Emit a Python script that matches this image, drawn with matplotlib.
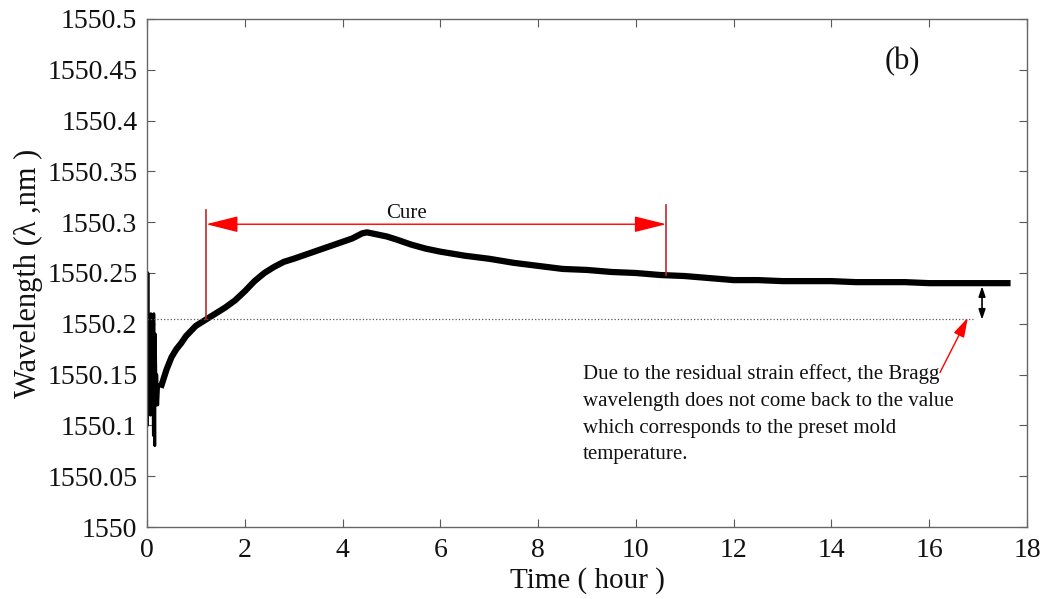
import matplotlib
matplotlib.use('Agg')
from matplotlib import pyplot as plt
import numpy as np

plt.rcParams['font.family'] = ['Liberation Serif', 'DejaVu Serif']

# noisy start-up of the FBG signal (hour, nm)
t_start = [0.00, 0.01, 0.02, 0.03, 0.05, 0.07, 0.08, 0.10, 0.11, 0.13, 0.14, 0.16, 0.17, 0.19, 0.20, 0.22, 0.24]
wl_start = [1550.25, 1550.10, 1550.25, 1550.12, 1550.20, 1550.11, 1550.21, 1550.13, 1550.20, 1550.09,
            1550.21, 1550.08, 1550.19, 1550.12, 1550.15, 1550.12, 1550.14]

# rest of the curve
t_main = [0.30, 0.40, 0.50, 0.60, 0.70, 0.80, 0.90, 1.00, 1.20, 1.40, 1.60, 1.80, 2.00, 2.20, 2.40,
          2.60, 2.80, 3.00, 3.30, 3.60, 3.90, 4.20, 4.40, 4.50, 4.70, 4.90, 5.10, 5.40, 5.70, 6.00,
          6.50, 7.00, 7.50, 8.00, 8.50, 9.00, 9.50, 10.00, 10.50, 11.00, 11.50, 12.00, 12.50, 13.00,
          13.50, 14.00, 14.50, 15.00, 15.50, 16.00, 16.50, 17.00, 17.60]
wl_main = [1550.140, 1550.155, 1550.167, 1550.175, 1550.181, 1550.188, 1550.193, 1550.198, 1550.204,
           1550.210, 1550.216, 1550.223, 1550.232, 1550.242, 1550.250, 1550.256, 1550.261, 1550.264,
           1550.269, 1550.274, 1550.279, 1550.284, 1550.289, 1550.290, 1550.288, 1550.286, 1550.283,
           1550.278, 1550.274, 1550.271, 1550.267, 1550.264, 1550.260, 1550.257, 1550.254, 1550.253,
           1550.251, 1550.250, 1550.248, 1550.247, 1550.245, 1550.243, 1550.243, 1550.242, 1550.242,
           1550.242, 1550.241, 1550.241, 1550.241, 1550.240, 1550.240, 1550.240, 1550.240]

preset_wl = 1550.205      # wavelength at preset mold temperature
cure_start, cure_end = 1.21, 10.62
x_ticks = [0, 2, 4, 6, 8, 10, 12, 14, 16, 18]
y_ticks = [1550, 1550.05, 1550.1, 1550.15, 1550.2, 1550.25, 1550.3, 1550.35, 1550.4, 1550.45, 1550.5]
y_ticklabels = ['1550', '1550.05', '1550.1', '1550.15', '1550.2', '1550.25', '1550.3', '1550.35',
                '1550.4', '1550.45', '1550.5']

fig = plt.figure(figsize=(10.47, 5.99), dpi=100)
ax = fig.add_axes([0.1404, 0.1202, 0.8405, 0.8481])

# noisy start drawn thinner, then the main trace
ax.plot(t_start + t_main[:1], wl_start + wl_main[:1], color='k', lw=2.0)
ax.plot(t_main, wl_main, color='k', lw=4.5, solid_joinstyle='round')

# dotted reference line
ax.plot([0, 16.9], [preset_wl, preset_wl], ':', color='0.35', lw=0.9)

# cure interval
ax.plot([cure_start, cure_start], [preset_wl, 1550.312], color='#c0282d', lw=1.2)
ax.plot([cure_end, cure_end], [1550.248, 1550.317], color='#c0282d', lw=1.2)
ax.annotate('', xy=(cure_start, 1550.298), xytext=(cure_end, 1550.298),
            arrowprops=dict(arrowstyle='<|-|>,head_length=2.0,head_width=0.5', color='#ff0000', lw=1.0,
                            shrinkA=0, shrinkB=0))
ax.text(5.30, 1550.309, 'Cure', fontsize=15, ha='center', va='center', color='#111111')

# residual strain arrows
ax.annotate('', xy=(17.08, 1550.204), xytext=(17.08, 1550.237),
            arrowprops=dict(arrowstyle='<|-|>,head_length=0.6,head_width=0.2', color='k', lw=1.2,
                            shrinkA=0, shrinkB=0))
ax.annotate('', xy=(16.79, 1550.206), xytext=(16.22, 1550.152),
            arrowprops=dict(arrowstyle='-|>,head_length=1.2,head_width=0.35', color='#ff0000', lw=1.0,
                            shrinkA=0, shrinkB=0))
ax.text(8.92, 1550.160,
        'Due to the residual strain effect, the Bragg\nwavelength does not come back to the value\n'
        'which corresponds to the preset mold\ntemperature.',
        fontsize=15, ha='left', va='top', linespacing=1.55, color='#111111')

ax.text(15.46, 1550.458, '(b)', fontsize=22, ha='center', va='center', color='#111111')

ax.set_xlim(0, 18)
ax.set_ylim(1550, 1550.5)
ax.set_xticks(x_ticks)
ax.set_yticks(y_ticks)
ax.set_yticklabels(y_ticklabels)
ax.tick_params(direction='in', top=True, right=True, length=6, width=0.8, labelsize=20,
               color='0.35', labelcolor='#111111')
ax.tick_params(axis='x', pad=8)
ax.tick_params(axis='y', pad=7)
for sp in ax.spines.values():
    sp.set_linewidth(1.0)
    sp.set_color('0.4')

ax.set_xlabel('Time ( hour )', fontsize=21, labelpad=3, color='#111111')
ax.set_ylabel('Wavelength (λ ,nm )', fontsize=22, color='#111111')
ax.yaxis.set_label_coords(-0.118, 0.5)

fig.savefig('out.png', dpi=100)
